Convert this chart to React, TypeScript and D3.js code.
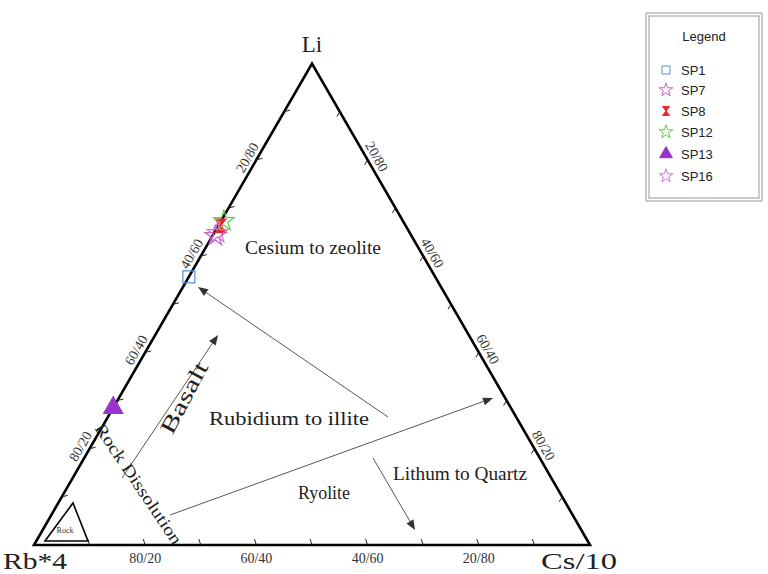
import React from "react";
import * as d3 from "d3";

// ---- data ----
const samples = ["SP1", "SP7", "SP8", "SP12", "SP13", "SP16"];
// percentages: Li, Rb*4, Cs/10
const liValues = [55.7, 64.2, 66.3, 67.3, 28.5, 64.8];
const rbValues = [44.3, 35.3, 33.3, 32.2, 71.5, 34.6];
const csValues = [0, 0.5, 0.4, 0.5, 0, 0.6];
const sampleColors = ["#5b8fd3", "#c85fc8", "#ee2233", "#5fcf4a", "#9933cc", "#cc77dd"];
const sampleShapes = ["square", "star", "hourglass", "star", "triangle", "star"];
const tickFractions = [0.1, 0.2, 0.3, 0.4, 0.5, 0.6, 0.7, 0.8, 0.9];
const labelFractions = [0.2, 0.4, 0.6, 0.8];
const bottomLabels = ["80/20", "60/40", "40/60", "20/80"];
const leftLabels = ["80/20", "60/40", "40/60", "20/80"];
const rightLabels = ["20/80", "40/60", "60/40", "80/20"];

const W = 768;
const H = 574;

const xs = d3.scaleLinear().domain([0, 1]).range([34, 590]);
const ys = d3.scaleLinear().domain([0, 1]).range([545, 63.5]);

// ternary -> pixel (li top, rb bottom-left, cs bottom-right)
function proj(li: number, rb: number, cs: number): [number, number] {
  const s = li + rb + cs;
  const l = li / s;
  const c = cs / s;
  return [xs(c + l / 2), ys(l)];
}

function symbolPath(shape: string, size: number): string {
  if (shape === "hourglass") {
    const w = size * 0.45;
    const h = size * 0.55;
    return `M${-w},${-h}L${w},${-h}L0,0L${w},${h}L${-w},${h}L0,0Z`;
  }
  const t =
    shape === "square" ? d3.symbolSquare : shape === "triangle" ? d3.symbolTriangle : d3.symbolStar;
  const area = shape === "square" ? size * size * 1.0 : shape === "triangle" ? size * size * 1.1 : size * size * 0.9;
  return d3.symbol().type(t).size(area)() || "";
}

function isFilled(shape: string) {
  return shape === "hourglass" || shape === "triangle";
}

const arrows: [number, number, number, number][] = [
  [122, 478, 218, 335],
  [388, 417, 198, 287],
  [170, 515, 493, 398],
  [373, 458, 415, 530],
];

function Arrow({ a }: { a: [number, number, number, number] }) {
  const [x1, y1, x2, y2] = a;
  const ang = Math.atan2(y2 - y1, x2 - x1);
  const L = 10;
  const Wd = 4;
  const bx = x2 - L * Math.cos(ang);
  const by = y2 - L * Math.sin(ang);
  const px = -Math.sin(ang) * Wd;
  const py = Math.cos(ang) * Wd;
  return (
    <g>
      <line x1={x1} y1={y1} x2={bx} y2={by} stroke="#444" strokeWidth={0.9} />
      <path d={`M${x2},${y2}L${bx + px},${by + py}L${bx - px},${by - py}Z`} fill="#333" />
    </g>
  );
}

export default function App() {
  const A = proj(0, 1, 0); // Rb bottom-left
  const B = proj(0, 0, 1); // Cs bottom-right
  const C = proj(1, 0, 0); // Li top
  const serif = "'Liberation Serif', 'Times New Roman', serif";
  const sans = "'Liberation Sans', Arial, sans-serif";

  const ticks: JSX.Element[] = [];
  tickFractions.forEach((f, i) => {
    const [bx, by] = proj(0, 1 - f, f);
    ticks.push(<line key={"b" + i} x1={bx} y1={by} x2={bx - 2} y2={by - 6} stroke="#222" strokeWidth={1} />);
    const [lx, ly] = proj(f, 1 - f, 0);
    ticks.push(<line key={"l" + i} x1={lx} y1={ly} x2={lx + 6} y2={ly - 1.5} stroke="#222" strokeWidth={1} />);
    const [rx, ry] = proj(1 - f, 0, f);
    ticks.push(<line key={"r" + i} x1={rx} y1={ry} x2={rx - 3} y2={ry + 5} stroke="#222" strokeWidth={1} />);
  });

  const labels: JSX.Element[] = [];
  labelFractions.forEach((f, i) => {
    const [bx, by] = proj(0, 1 - f, f);
    labels.push(
      <text key={"bl" + i} x={bx} y={by + 18} textAnchor="middle" fontSize={14} fill="#333" fontFamily={serif}>
        {bottomLabels[i]}
      </text>
    );
    const [lx, ly] = proj(f, 1 - f, 0);
    const lox = lx - 9 * Math.cos(Math.PI / 6);
    const loy = ly - 9 * Math.sin(Math.PI / 6) + 3;
    labels.push(
      <text
        key={"ll" + i}
        x={0}
        y={0}
        transform={`translate(${lox},${loy}) rotate(-60)`}
        textAnchor="middle"
        dominantBaseline="middle"
        fontSize={14}
        fill="#333"
        fontFamily={serif}
      >
        {leftLabels[i]}
      </text>
    );
    const [rx, ry] = proj(1 - f, 0, f);
    const rox = rx + 9 * Math.cos(Math.PI / 6);
    const roy = ry - 9 * Math.sin(Math.PI / 6) + 2;
    labels.push(
      <text
        key={"rl" + i}
        x={0}
        y={0}
        transform={`translate(${rox},${roy}) rotate(60)`}
        textAnchor="middle"
        dominantBaseline="middle"
        fontSize={14}
        fill="#333"
        fontFamily={serif}
      >
        {rightLabels[i]}
      </text>
    );
  });

  const legendRowY = [70, 90, 111, 132, 154, 176];

  return (
    <svg width={W} height={H} style={{ position: "absolute", left: 0, top: 0 }} viewBox={`0 0 ${W} ${H}`}>
      <rect x={0} y={0} width={W} height={H} fill="#fff" />
      <path
        d={`M${A[0]},${A[1]}L${B[0]},${B[1]}L${C[0]},${C[1]}Z`}
        fill="none"
        stroke="#000"
        strokeWidth={2.6}
        strokeLinejoin="miter"
      />
      {ticks}
      {labels}
      <text x={C[0]} y={C[1] - 12} textAnchor="middle" fontSize={23} fontFamily={serif} fill="#222">
        Li
      </text>
      <text x={35} y={569} textAnchor="middle" fontSize={24} fontFamily={serif} fill="#222" textLength={64} lengthAdjust="spacingAndGlyphs">
        Rb*4
      </text>
      <text x={579} y={569} textAnchor="middle" fontSize={24} fontFamily={serif} fill="#222" textLength={76} lengthAdjust="spacingAndGlyphs">
        Cs/10
      </text>
      <path d="M45,541L88,541L73,503Z" fill="none" stroke="#000" strokeWidth={1.6} />
      <text x={65} y={533} textAnchor="middle" fontSize={8} fontFamily={serif} fill="#333">
        Rock
      </text>
      {arrows.map((a, i) => (
        <Arrow key={i} a={a} />
      ))}
      <text x={313} y={254} textAnchor="middle" fontSize={19} fontFamily={serif} fill="#222" textLength={136} lengthAdjust="spacingAndGlyphs">
        Cesium to zeolite
      </text>
      <text x={289} y={425} textAnchor="middle" fontSize={19} fontFamily={serif} fill="#222" textLength={160} lengthAdjust="spacingAndGlyphs">
        Rubidium to illite
      </text>
      <text x={460} y={480} textAnchor="middle" fontSize={19} fontFamily={serif} fill="#222" textLength={134} lengthAdjust="spacingAndGlyphs">
        Lithum to Quartz
      </text>
      <text x={324} y={499} textAnchor="middle" fontSize={19} fontFamily={serif} fill="#222" textLength={52} lengthAdjust="spacingAndGlyphs">
        Ryolite
      </text>
      <text
        transform="translate(186,399) rotate(-62)"
        textAnchor="middle"
        dominantBaseline="middle"
        fontSize={22}
        fontFamily={serif}
        fill="#222"
        textLength={78}
        lengthAdjust="spacingAndGlyphs"
      >
        Basalt
      </text>
      <text
        transform="translate(137,485) rotate(56)"
        textAnchor="middle"
        dominantBaseline="middle"
        fontSize={17}
        fontFamily={serif}
        fill="#222"
        textLength={142}
        lengthAdjust="spacingAndGlyphs"
      >
        Rock Dissolution
      </text>
      {samples.map((s, i) => {
        const [px, py] = proj(liValues[i], rbValues[i], csValues[i]);
        const filled = isFilled(sampleShapes[i]);
        return (
          <path
            key={s}
            d={symbolPath(sampleShapes[i], 12)}
            transform={`translate(${px},${py})`}
            fill={filled ? sampleColors[i] : "none"}
            stroke={sampleColors[i]}
            strokeWidth={1.2}
          />
        );
      })}
      <rect x={646} y={13} width={116} height={188} fill="#fff" stroke="#999" strokeWidth={1} />
      <rect x={649} y={16} width={110} height={182} fill="none" stroke="#999" strokeWidth={1} />
      <text x={704} y={41} textAnchor="middle" fontSize={13} fontFamily={sans} fill="#222">
        Legend
      </text>
      {samples.map((s, i) => {
        const filled = isFilled(sampleShapes[i]);
        return (
          <g key={"lg" + s} transform={`translate(666,${legendRowY[i]})`}>
            <path
              d={symbolPath(sampleShapes[i], 8)}
              fill={filled ? sampleColors[i] : "none"}
              stroke={sampleColors[i]}
              strokeWidth={1}
            />
            <text x={15} y={5} fontSize={13} fontFamily={sans} fill="#222">
              {s}
            </text>
          </g>
        );
      })}
    </svg>
  );
}
